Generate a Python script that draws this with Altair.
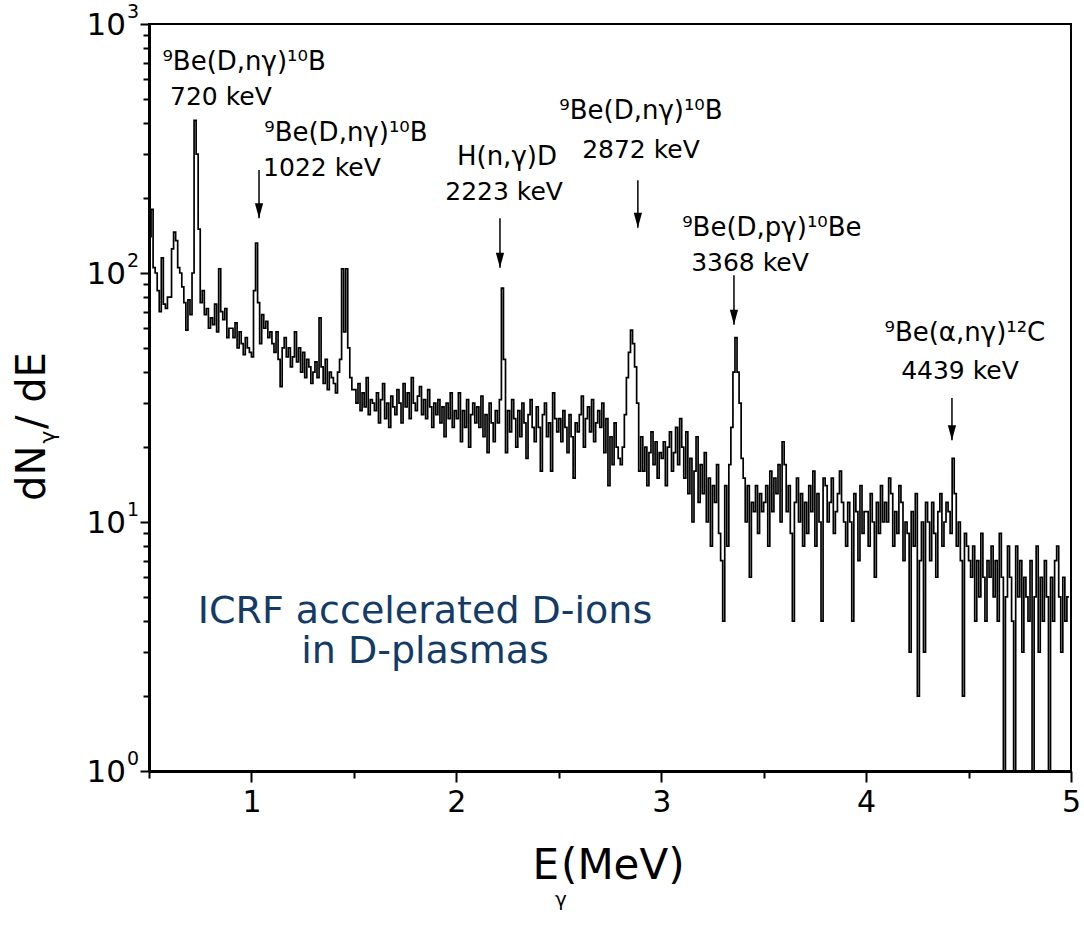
import altair as alt
import pandas as pd

# ---------------- data ----------------
E_START = 0.5          # MeV, first channel
CHANNEL_WIDTH = 0.01   # MeV per channel

counts = [
    140, 180, 105, 100, 85, 70, 115, 75, 72, 80,      # 0.50
    80, 125, 146, 135, 105, 100, 88, 76, 59, 78,      # 0.60
    68, 100, 410, 300, 150, 76, 85, 68, 72, 60,       # 0.70
    66, 62, 75, 58, 104, 70, 65, 72, 55, 60,          # 0.80
    60, 55, 63, 50, 58, 52, 47, 55, 50, 48,           # 0.90
    46, 85, 132, 76, 52, 68, 60, 64, 55, 58,          # 1.00
    52, 48, 58, 45, 35, 50, 55, 46, 50, 42,           # 1.10
    46, 58, 44, 50, 40, 48, 38, 45, 42, 36,           # 1.20
    40, 44, 38, 66, 42, 36, 45, 34, 40, 38,           # 1.30
    36, 33, 40, 45, 104, 58, 104, 50, 38, 34,         # 1.40
    34, 30, 36, 28, 33, 29, 38, 27, 31, 30,           # 1.50
    28, 33, 25, 31, 36, 26, 30, 24, 32, 29,           # 1.60
    27, 34, 30, 25, 36, 29, 33, 26, 38, 30,           # 1.70
    28, 32, 35, 27, 31, 26, 34, 29, 24, 30,           # 1.80
    27, 31, 25, 29, 22, 30, 26, 33, 24, 28,           # 1.90
    26, 33, 21, 28, 24, 31, 20, 27, 30, 25,           # 2.00
    29, 24, 32, 22, 27, 19, 30, 25, 21, 28,           # 2.10
    25, 31, 87, 45, 19, 28, 23, 31, 26, 20,           # 2.20
    28, 22, 30, 25, 18, 27, 31, 24, 21, 29,           # 2.30
    24, 16, 27, 30, 22, 25, 16, 33, 26, 23,           # 2.40
    26, 21, 28, 24, 19, 27, 22, 15, 25, 23,           # 2.50
    27, 32, 20, 26, 29, 23, 31, 21, 25, 28,           # 2.60
    24, 30, 19, 26, 14, 22, 17, 25, 20, 18,           # 2.70
    17, 20, 27, 38, 48, 59, 52, 42, 30, 16,           # 2.80
    22, 16, 20, 14, 19, 23, 17, 21, 15, 19,           # 2.90
    18, 21, 14, 20, 23, 16, 19, 24, 17, 26,           # 3.00
    20, 15, 23, 13, 18, 10, 16, 22, 12, 17,           # 3.10
    13, 19, 10, 15, 8, 14, 12, 17, 9, 7,              # 3.20
    4, 14, 8, 17, 24, 40, 55, 40, 30, 18,             # 3.30
    15, 10, 14, 6, 12, 11, 14, 9, 13, 11,             # 3.40
    12, 14, 8, 16, 11, 15, 13, 17, 10, 21,            # 3.50
    17, 11, 14, 9, 4, 12, 15, 10, 13, 8,              # 3.60
    12, 9, 14, 11, 16, 8, 13, 10, 4, 15,              # 3.70
    14, 10, 12, 15, 9, 11, 13, 16, 12, 10,            # 3.80
    8, 12, 10, 4, 13, 11, 7, 14, 9, 11,               # 3.90
    11, 8, 13, 10, 6, 12, 9, 14, 10, 12,              # 4.00
    10, 15, 13, 8, 11, 9, 14, 12, 7, 10,              # 4.10
    9, 3, 11, 8, 13, 2, 7, 10, 3, 12,                 # 4.20
    10, 7, 12, 9, 6, 11, 13, 8, 10, 12,               # 4.30
    11, 9, 18, 13, 8, 10, 7, 2, 9, 8,                 # 4.40
    7, 6, 8, 4, 7, 5, 9, 6, 4, 7,                     # 4.50
    6, 8, 5, 7, 4, 9, 6, 1, 5, 8,                     # 4.60
    6, 4, 1, 8, 5, 7, 3, 6, 5, 4,                     # 4.70
    7, 1, 5, 8, 3, 6, 4, 7, 5, 1,                     # 4.80
    6, 4, 7, 8, 5, 3, 6, 4, 5, 5,                     # 4.90
]
energy = [round(E_START + i * CHANNEL_WIDTH, 4) for i in range(len(counts))]

reaction_text = ["\u2079Be(D,n\u03b3)\u00b9\u2070B", "\u2079Be(D,n\u03b3)\u00b9\u2070B", "H(n,\u03b3)D",
                 "\u2079Be(D,n\u03b3)\u00b9\u2070B", "\u2079Be(D,p\u03b3)\u00b9\u2070Be",
                 "\u2079Be(\u03b1,n\u03b3)\u00b9\u00b2C"]
reaction_E = [0.964, 1.461, 2.247, 2.901, 3.540, 4.482]
reaction_val = [704, 365, 292, 447, 152, 57.4]

energy_text = ["720 keV", "1022 keV", "2223 keV", "2872 keV", "3368 keV", "4439 keV"]
energy_E = [0.851, 1.344, 2.233, 2.901, 3.433, 4.458]
energy_val = [509, 264, 211, 312, 110, 40.4]

arrow_E = [1.037, 2.213, 2.886, 3.355, 4.419]
arrow_top = [259, 166, 236, 98, 31.5]
arrow_tip = [166, 105, 152, 62, 21.3]

note_text = ["ICRF accelerated D-ions", "in D-plasmas"]
note_E = [1.847, 1.847]
note_val = [4.35, 3.0]

decades = [1, 10, 100, 1000]
decade_exp = ["0", "1", "2", "3"]
y_ticks = [1, 2, 3, 4, 5, 6, 7, 8, 9, 10, 20, 30, 40, 50, 60, 70, 80, 90,
           100, 200, 300, 400, 500, 600, 700, 800, 900, 1000]
x_ticks = [0.5, 1, 1.5, 2, 2.5, 3, 3.5, 4, 4.5, 5]

# ---------------- chart ----------------
FONT = "DejaVu Sans"
xs = alt.Scale(domain=[0.5, 5], nice=False, zero=False)
ys = alt.Scale(type="log", domain=[1, 1000], nice=False)

x_axis = alt.Axis(
    values=x_ticks, title=None, grid=False,
    labelExpr="datum.value % 1 == 0 ? format(datum.value, 'd') : ''",
    tickSize={"condition": {"test": "datum.value % 1 == 0", "value": 11}, "value": 7},
    tickWidth=2, tickColor="black", domainWidth=3, domainColor="black",
    labelFontSize=30, labelFont=FONT, labelColor="black", labelPadding=5,
    labelFlush=False, labelOverlap=False)
y_axis = alt.Axis(
    values=y_ticks, title=None, grid=False, labels=False,
    tickSize={"condition": {"test": "indexof([1,10,100,1000], datum.value) >= 0", "value": 9}, "value": 6},
    tickWidth=2, tickColor="black", domainWidth=3, domainColor="black")


def X(field):
    return alt.X(field, scale=xs, axis=x_axis)


def Y(field):
    return alt.Y(field, scale=ys, axis=y_axis)


spec_df = pd.DataFrame({"E": energy, "N": counts})
spectrum = alt.Chart(spec_df).mark_line(
    interpolate="step-after", color="black", strokeWidth=1.7, clip=True
).encode(x=X("E:Q"), y=Y("N:Q"))

dec_df = pd.DataFrame({"v": decades, "exp": decade_exp, "base": ["10"] * 4})
dec_base = alt.Chart(dec_df).mark_text(
    font=FONT, fontSize=31, align="right", baseline="middle", color="black", dy=2
).encode(x=alt.value(-23), y=Y("v:Q"), text="base:N")
dec_exp = alt.Chart(dec_df).mark_text(
    font=FONT, fontSize=19, align="left", baseline="middle", color="black", dy=-12
).encode(x=alt.value(-22), y=Y("v:Q"), text="exp:N")

react_df = pd.DataFrame({"E": reaction_E, "v": reaction_val, "t": reaction_text})
react = alt.Chart(react_df).mark_text(
    font=FONT, fontSize=26, align="center", baseline="middle", color="black"
).encode(x=X("E:Q"), y=Y("v:Q"), text="t:N")

en_df = pd.DataFrame({"E": energy_E, "v": energy_val, "t": energy_text})
en = alt.Chart(en_df).mark_text(
    font=FONT, fontSize=25, align="center", baseline="middle", color="black"
).encode(x=X("E:Q"), y=Y("v:Q"), text="t:N")

arr_df = pd.DataFrame({"E": arrow_E, "top": arrow_top, "tip": arrow_tip})
shaft = alt.Chart(arr_df).mark_rule(color="black", strokeWidth=1.5).encode(
    x=X("E:Q"), y=Y("top:Q"), y2="tip:Q")
head = alt.Chart(arr_df).mark_point(
    shape="M -0.55 -2 L 0.55 -2 L 0 0 Z", filled=True, size=225, color="black", opacity=1, strokeWidth=0
).encode(x=X("E:Q"), y=Y("tip:Q"))

note_df = pd.DataFrame({"E": note_E, "v": note_val, "t": note_text})
note = alt.Chart(note_df).mark_text(
    font=FONT, fontSize=38, align="center", baseline="middle", color="#133B66"
).encode(x=X("E:Q"), y=Y("v:Q"), text="t:N")

# axis titles built from pieces (sub-scripted gamma)
ttl_df = pd.DataFrame({"t": ["x"]})
x_E = alt.Chart(ttl_df).mark_text(font=FONT, fontSize=42, align="right", baseline="middle", color="black",
                                  text="E").encode(x=alt.value(410), y=alt.value(842))
x_g = alt.Chart(ttl_df).mark_text(font=FONT, fontSize=20, align="center", baseline="middle", color="black",
                                  text="\u03b3").encode(x=alt.value(412), y=alt.value(876))
x_rest = alt.Chart(ttl_df).mark_text(font=FONT, fontSize=42, align="left", baseline="middle", color="black",
                                     text="(MeV)").encode(x=alt.value(412), y=alt.value(842))
y_dN = alt.Chart(ttl_df).mark_text(font=FONT, fontSize=40, align="left", baseline="middle", color="black",
                                   angle=270, text="dN").encode(x=alt.value(-116), y=alt.value(477))
y_g = alt.Chart(ttl_df).mark_text(font=FONT, fontSize=22, align="center", baseline="middle", color="black",
                                  angle=270, text="\u03b3").encode(x=alt.value(-101), y=alt.value(413))
y_rest = alt.Chart(ttl_df).mark_text(font=FONT, fontSize=40, align="left", baseline="middle", color="black",
                                     angle=270, text=" / dE").encode(x=alt.value(-116), y=alt.value(405))

chart = alt.layer(
    spectrum, shaft, head, react, en, note, dec_base, dec_exp, x_E, x_g, x_rest, y_dN, y_g, y_rest
).properties(
    width=922, height=747,
    autosize=alt.AutoSizeParams(type="none"),
    padding={"left": 149, "top": 24, "right": 13, "bottom": 156},
    background="white",
).configure_view(stroke="black", strokeWidth=2)

chart.save("out.html", embed_options={"renderer": "svg", "actions": False})
